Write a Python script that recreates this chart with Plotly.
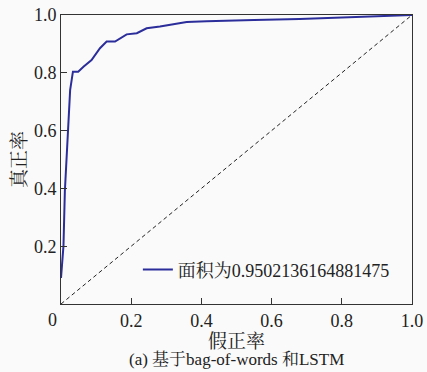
import plotly.graph_objects as go

fpr = [0, 0.007, 0.011, 0.019, 0.026, 0.034, 0.049, 0.064, 0.087, 0.111, 0.130, 0.154,
       0.187, 0.216, 0.244, 0.282, 0.320, 0.358, 0.415, 0.453, 0.55, 0.68, 0.85, 0.97, 1.0]
tpr = [0.09, 0.20, 0.39, 0.59, 0.74, 0.804, 0.804, 0.821, 0.844, 0.885, 0.908, 0.908,
       0.933, 0.937, 0.954, 0.960, 0.969, 0.976, 0.978, 0.980, 0.983, 0.986, 0.994, 1.0, 1.0]
diag = [0, 1]
auc_label = "面积为0.9502136164881475"
x_ticks = [0.2, 0.4, 0.6, 0.8, 1.0]
x_ticktext = ["0.2", "0.4", "0.6", "0.8", "1.0"]
y_ticks = [0.2, 0.4, 0.6, 0.8, 1.0]
y_ticktext = ["0.2", "0.4", "0.6", "0.8", "1.0"]

FONT = "Liberation Serif, Noto Serif CJK SC, Noto Sans CJK SC, serif"
BG = "#fafafa"

fig = go.Figure()
fig.add_trace(go.Scatter(x=diag, y=diag, mode="lines", showlegend=False,
                         line=dict(color="#222", width=1, dash="4px,3px")))
fig.add_trace(go.Scatter(x=fpr, y=tpr, mode="lines", name=auc_label,
                         line=dict(color="#2b2d9a", width=2)))

fig.update_layout(
    width=427, height=372,
    margin=dict(l=61, r=15, t=15, b=68),
    paper_bgcolor=BG, plot_bgcolor=BG,
    font=dict(family=FONT, size=18, color="#222"),
    legend=dict(x=0.219, y=0.118, xanchor="left", yanchor="middle",
                bgcolor="rgba(0,0,0,0)", font=dict(size=18), itemwidth=30,
                tracegroupgap=0),
    xaxis=dict(range=[0, 1], tickvals=x_ticks, ticktext=x_ticktext,
               ticks="inside", ticklen=6, tickcolor="#333",
               showline=True, linecolor="#333", linewidth=1, mirror=True,
               showgrid=False, zeroline=False, automargin=False,
               ticklabeloverflow="allow",
               title=dict(text="假正率", font=dict(size=19), standoff=2)),
    yaxis=dict(range=[0, 1], tickvals=y_ticks, ticktext=y_ticktext,
               ticks="inside", ticklen=6, tickcolor="#333",
               showline=True, linecolor="#333", linewidth=1, mirror=True,
               showgrid=False, zeroline=False, automargin=False,
               ticklabeloverflow="allow",
               title=dict(text="真正率", font=dict(size=19), standoff=2)),
    annotations=[
        dict(text="0", x=0, y=0, xref="paper", yref="paper", showarrow=False,
             xanchor="center", yanchor="top", xshift=-9, yshift=-4,
             font=dict(size=18)),
        dict(text="(a) 基于bag-of-words 和LSTM", x=0.5, y=0, xref="paper", yref="paper",
             showarrow=False, xanchor="center", yanchor="middle", yshift=-55,
             font=dict(size=17)),
    ],
)

# remove the browser's default 8px body margin so the figure fills the window
fig.write_html("out.html", config={"displayModeBar": False},
               post_script="document.body.style.margin='0';document.body.style.background='#fafafa';")
